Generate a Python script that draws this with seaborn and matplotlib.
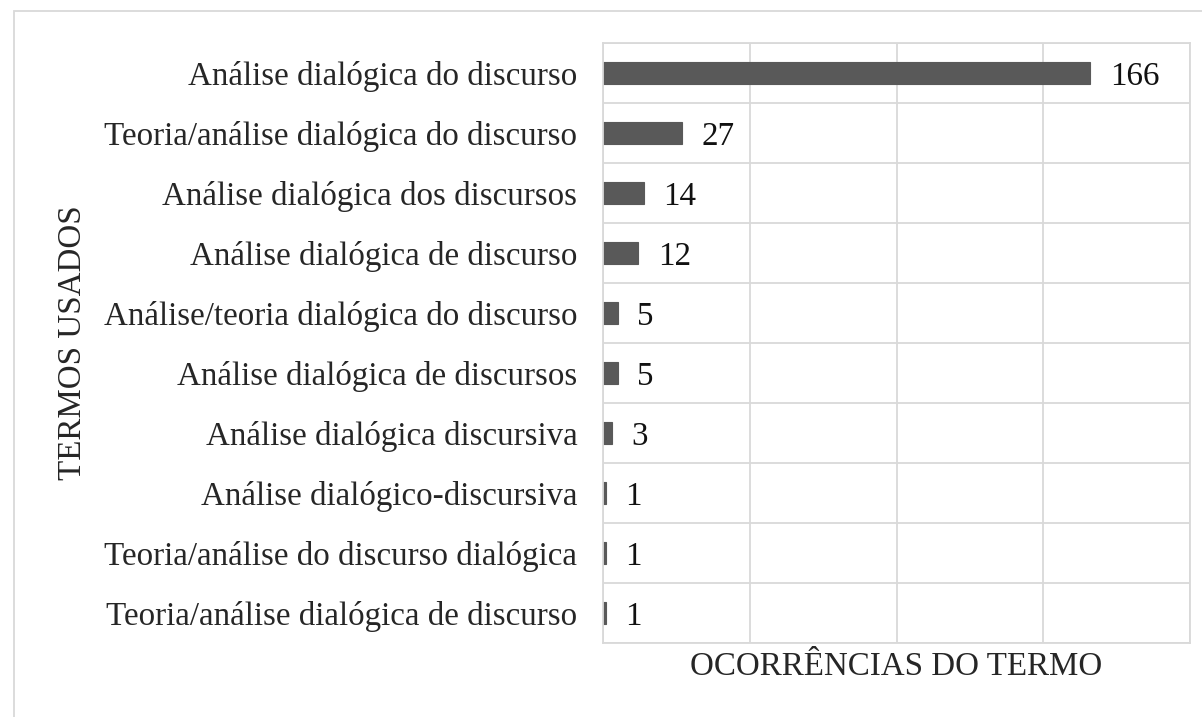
import seaborn as sns
import matplotlib.pyplot as plt
import pandas as pd
from matplotlib.patches import Rectangle

# Data
termos = [
    'Análise dialógica do discurso',
    'Teoria/análise dialógica do discurso',
    'Análise dialógica dos discursos',
    'Análise dialógica de discurso',
    'Análise/teoria dialógica do discurso',
    'Análise dialógica de discursos',
    'Análise dialógica discursiva',
    'Análise dialógico-discursiva',
    'Teoria/análise do discurso dialógica',
    'Teoria/análise dialógica de discurso',
]
ocorrencias = [166, 27, 14, 12, 5, 5, 3, 1, 1, 1]
df = pd.DataFrame({'termo': termos, 'n': ocorrencias})

sns.set_style('white')
plt.rcParams['font.family'] = ['Liberation Serif', 'DejaVu Serif']

W, H = 1202, 717
fs = 23.8
fig = plt.figure(figsize=(W / 100, H / 100), dpi=100)
ax = fig.add_axes([603 / W, 1 - 643 / H, (1190 - 603) / W, (643 - 43) / H])

sns.barplot(data=df, y='termo', x='n', orient='h', color='#595959',
            width=0.37, saturation=1, edgecolor='#595959', linewidth=0.8, ax=ax)

ax.set_xlim(0, 200)
ax.set_ylim(len(termos) - 0.5, -0.5)
ax.set_xticks([0, 50, 100, 150, 200])
ax.set_xticklabels([])
ax.set_yticks([i + 0.5 for i in range(-1, len(termos))], minor=True)
ax.grid(True, axis='x', color='#d9d9d9', lw=1.3)
ax.grid(True, axis='y', which='minor', color='#d9d9d9', lw=1.3)
ax.tick_params(axis='both', which='both', length=0)
ax.tick_params(axis='y', labelsize=fs, pad=18.5, colors='#262626')
for s in ax.spines.values():
    s.set_color('#d9d9d9')
    s.set_linewidth(1.3)

for i, v in enumerate(ocorrencias):
    ax.annotate(str(v), (v, i), xytext=(14, 0), textcoords='offset points',
                va='center_baseline', ha='left', fontsize=fs, color='#111111')

ax.set_ylabel('TERMOS USADOS', fontsize=fs, color='#262626')
ax.set_xlabel('OCORRÊNCIAS DO TERMO', fontsize=fs, color='#262626')
ax.yaxis.set_label_coords((73 - 603) / (1190 - 603), 0.5)
ax.xaxis.set_label_coords(0.5, -0.04)
ax.xaxis.label.set_va('center')
ax.yaxis.label.set_va('center')

# outer chart border
fig.patches.append(Rectangle((14 / W, -0.1), 1.2, 1 - 11 / H + 0.1,
                             transform=fig.transFigure, fill=False,
                             edgecolor='#d9d9d9', lw=1.3))

fig.savefig('out.png', dpi=100)
